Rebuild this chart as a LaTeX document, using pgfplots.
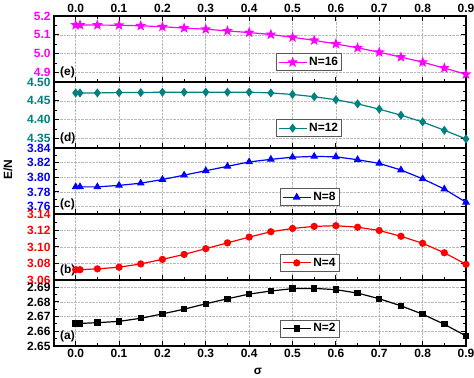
\documentclass[border=0pt]{standalone}
\usepackage{fontspec}
\setmainfont{Liberation Sans}
\usepackage{pgfplots}
\pgfplotsset{compat=1.18}
\definecolor{cmag}{RGB}{255,0,255}
\definecolor{cteal}{RGB}{0,128,128}
\definecolor{cblue}{RGB}{0,0,255}
\definecolor{cred}{RGB}{255,0,0}
\newcommand{\tf}{\bfseries\fontsize{12}{14}\selectfont}
\pgfdeclareplotmark{fstar}{%
  \pgfmathsetmacro\ri{0.42*\pgfplotmarksize}%
  \pgfpathmoveto{\pgfpointpolar{90}{\pgfplotmarksize}}%
  \pgfpathlineto{\pgfpointpolar{126}{\ri pt}}%
  \pgfpathlineto{\pgfpointpolar{162}{\pgfplotmarksize}}%
  \pgfpathlineto{\pgfpointpolar{198}{\ri pt}}%
  \pgfpathlineto{\pgfpointpolar{234}{\pgfplotmarksize}}%
  \pgfpathlineto{\pgfpointpolar{270}{\ri pt}}%
  \pgfpathlineto{\pgfpointpolar{306}{\pgfplotmarksize}}%
  \pgfpathlineto{\pgfpointpolar{342}{\ri pt}}%
  \pgfpathlineto{\pgfpointpolar{18}{\pgfplotmarksize}}%
  \pgfpathlineto{\pgfpointpolar{54}{\ri pt}}%
  \pgfpathclose
  \pgfusepathqfillstroke
}
\pgfplotsset{
 panel/.style={
  scale only axis, width=412bp, height=66bp,
  at={(54bp,#1)}, anchor=south west,
  xmin=-0.05, xmax=0.9,
  xtick={0,0.1,0.2,0.3,0.4,0.5,0.6,0.7,0.8,0.9},
  minor x tick num=1, minor y tick num=1,
  xticklabels={},
  xtick pos=lower, ytick pos=both,
  tick align=inside,
  major tick length=5bp, minor tick length=3bp,
  tick style={black, line width=1bp},
  axis line style={line width=1.3bp},
  grid=major, major grid style={densely dotted, gray!55, line width=0.6bp},
  /pgf/number format/assume math mode=true,
  ticklabel style={font=\tf},
  yticklabel style={/pgf/number format/fixed, /pgf/number format/fixed zerofill, /pgf/number format/precision=2},
  legend cell align=left,
  legend style={anchor=south west, draw=black!65, line width=0.9bp, font=\tf, inner sep=1.5bp},
  legend image code/.code={\draw[mark repeat=2,mark phase=2,##1] plot coordinates {(0bp,0bp) (14bp,0bp) (28bp,0bp)};},
  every axis plot/.append style={line width=1.2bp, mark options={solid}},
 }
}
\begin{document}
\begin{tikzpicture}
\useasboundingbox (0,0) rectangle (474bp,378bp);
% (e) N=16
\begin{axis}[panel=296bp, ymin=4.85, ymax=5.2, ytick={4.9,5.0,5.1,5.2},
  yticklabel style={text=cmag, /pgf/number format/precision=1},
  xtick pos=both, xticklabel pos=upper,
  xticklabels={0.0,0.1,0.2,0.3,0.4,0.5,0.6,0.7,0.8,0.9},
  legend style={at={(0.539,0.164)}}]
\addplot[cmag, mark=fstar, mark size=4bp] table {
0 5.152
0.01 5.152
0.05 5.152
0.1 5.151
0.15 5.148
0.2 5.143
0.25 5.136
0.3 5.130
0.35 5.121
0.4 5.112
0.45 5.102
0.5 5.087
0.55 5.071
0.6 5.052
0.65 5.031
0.7 5.008
0.75 4.982
0.8 4.955
0.85 4.924
0.9 4.891
};
\addlegendentry{N=16}
\node[anchor=south west, font=\tf, inner sep=1bp] at (rel axis cs:0.012,0.04) {(e)};
\end{axis}
% (d) N=12
\begin{axis}[panel=230bp, ymin=4.325, ymax=4.50, ytick={4.35,4.40,4.45,4.50},
  yticklabel style={text=cteal},
  legend style={at={(0.539,0.167)}}]
\addplot[cteal, mark=diamond*, mark size=3.6bp] table {
0 4.471
0.01 4.471
0.05 4.471
0.1 4.472
0.15 4.472
0.2 4.473
0.25 4.473
0.3 4.473
0.35 4.473
0.4 4.473
0.45 4.471
0.5 4.467
0.55 4.461
0.6 4.453
0.65 4.442
0.7 4.428
0.75 4.412
0.8 4.394
0.85 4.372
0.9 4.349
};
\addlegendentry{N=12}
\node[anchor=south west, font=\tf, inner sep=1bp] at (rel axis cs:0.012,0.04) {(d)};
\end{axis}
% (c) N=8
\begin{axis}[panel=164bp, ymin=3.75, ymax=3.84, ytick={3.76,3.78,3.80,3.82,3.84},
  yticklabel style={text=cblue},
  legend style={at={(0.549,0.12)}}]
\addplot[cblue, mark=triangle*, mark size=3.4bp] table {
0 3.787
0.01 3.787
0.05 3.787
0.1 3.789
0.15 3.792
0.2 3.797
0.25 3.803
0.3 3.809
0.35 3.815
0.4 3.821
0.45 3.8245
0.5 3.8275
0.55 3.8285
0.6 3.828
0.65 3.824
0.7 3.819
0.75 3.810
0.8 3.798
0.85 3.784
0.9 3.766
};
\addlegendentry{N=8}
\node[anchor=south west, font=\tf, inner sep=1bp] at (rel axis cs:0.012,0.04) {(c)};
\end{axis}
% (b) N=4
\begin{axis}[panel=98bp, ymin=3.06, ymax=3.14, ytick={3.06,3.08,3.10,3.12,3.14},
  yticklabel style={text=cred},
  legend style={at={(0.549,0.126)}}]
\addplot[cred, mark=*, mark size=3bp] table {
0 3.0725
0.01 3.0725
0.05 3.0735
0.1 3.0755
0.15 3.0795
0.2 3.085
0.25 3.091
0.3 3.098
0.35 3.105
0.4 3.112
0.45 3.1185
0.5 3.1225
0.55 3.125
0.6 3.1258
0.65 3.124
0.7 3.120
0.75 3.113
0.8 3.1045
0.85 3.093
0.9 3.079
};
\addlegendentry{N=4}
\node[anchor=south west, font=\tf, inner sep=1bp] at (rel axis cs:0.012,0.04) {(b)};
\end{axis}
% (a) N=2
\begin{axis}[panel=32bp, ymin=2.65, ymax=2.695, ytick={2.65,2.66,2.67,2.68,2.69},
  yticklabel style={text=black},
  xticklabels={0.0,0.1,0.2,0.3,0.4,0.5,0.6,0.7,0.8,0.9},
  legend style={at={(0.549,0.13)}}]
\addplot[black, mark=square*, mark size=2.6bp] table {
0 2.6654
0.01 2.6654
0.05 2.6659
0.1 2.6668
0.15 2.6689
0.2 2.6719
0.25 2.6751
0.3 2.6788
0.35 2.6822
0.4 2.6854
0.45 2.6875
0.5 2.6891
0.55 2.6893
0.6 2.6884
0.65 2.6861
0.7 2.6822
0.75 2.6774
0.8 2.6717
0.85 2.6648
0.9 2.6569
};
\addlegendentry{N=2}
\node[anchor=south west, font=\tf, inner sep=1bp] at (rel axis cs:0.012,0.04) {(a)};
\end{axis}
\node[rotate=90, font=\tf] at (8bp,208bp) {E/N};
\node[font=\tf] at (258bp,7bp) {σ};
\end{tikzpicture}
\end{document}
